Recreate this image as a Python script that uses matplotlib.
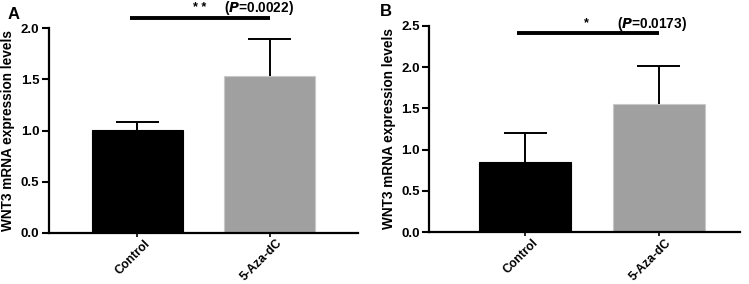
import matplotlib.pyplot as plt
import matplotlib.transforms as mtransforms
import numpy as np

plt.rcParams['font.family'] = ['Liberation Sans', 'DejaVu Sans']
plt.rcParams['font.weight'] = 'bold'
plt.rcParams['axes.labelweight'] = 'bold'

grupos = ['Control', '5-Aza-dC']
cores = ['#000000', '#a0a0a0']
bordas = ['#000000', '#c8c8c8']

# painel A
media_a = [1.01, 1.535]
erro_a = [0.07, 0.355]
# painel B
media_b = [0.855, 1.553]
erro_b = [0.345, 0.464]

paineis = [
    ('A', media_a, erro_a, 2.0, 2.095, '* *', '0.0022'),
    ('B', media_b, erro_b, 2.5, 2.41, '*', '0.0173'),
]
posicoes = [
    [0.0654, 0.1796, 0.4126, 0.7214],
    [0.5732, 0.182, 0.4148, 0.7275],
]
xlims = [(-0.67, 1.67), (-0.72, 1.61)]
pos_estrela = [0.47, 0.455]
pos_p = [0.92, 0.947]
off_texto = [0.10, 0.115]
pos_letra = [(0.010, 0.975), (0.507, 0.985)]

fig = plt.figure(figsize=(7.49, 2.84), dpi=100)
x = np.arange(len(grupos))
desloc = mtransforms.ScaledTranslation(0.11, -0.085, fig.dpi_scale_trans)

for i, (letra, medias, erros, ytop, ysig, estrelas, pval) in enumerate(paineis):
    ax = fig.add_axes(posicoes[i])
    medias = np.array(medias)
    erros = np.array(erros)
    ax.bar(x, medias, width=0.69, color=cores, edgecolor=bordas, linewidth=0.8, zorder=2)
    # barras de erro so para cima
    ax.vlines(x, medias, medias + erros, color='black', lw=1.4, zorder=3)
    ax.hlines(medias + erros, x - 0.163, x + 0.163, color='black', lw=1.4, zorder=3)
    ax.set_ylim(0, ytop)
    ax.set_xlim(*xlims[i])
    ticks = np.arange(0, ytop + 0.01, 0.5)
    ax.set_yticks(ticks)
    ax.set_yticklabels(['%.1f' % v for v in ticks], fontsize=9.5, fontweight='bold')
    ax.set_xticks(x)
    ax.set_xticklabels([])
    trans = mtransforms.blended_transform_factory(ax.transData, ax.transAxes) + desloc
    for xi, nome in zip(x, grupos):
        ax.text(xi, 0, nome, rotation=45, ha='right', va='center',
                rotation_mode='anchor', fontsize=8.8, fontweight='bold',
                transform=trans, clip_on=False)
    ax.tick_params(axis='y', direction='out', width=1.5, length=5, pad=2)
    ax.tick_params(axis='x', direction='out', width=1.2, length=3)
    for s in ['top', 'right']:
        ax.spines[s].set_visible(False)
    for s in ['left', 'bottom']:
        ax.spines[s].set_linewidth(1.6)
    ax.set_ylabel('WNT3 mRNA expression levels', fontsize=9.8, labelpad=4)

    # linha de significancia
    ax.plot([-0.06, 1.0], [ysig, ysig], color='black', lw=2.8, clip_on=False,
            solid_capstyle='butt')
    ax.text(pos_estrela[i], ysig + off_texto[i], estrelas,
            ha='center', va='center', fontsize=9)
    ax.text(pos_p[i], ysig + off_texto[i], r'($\bf\it{P}$=' + pval + ')',
            ha='center', va='center', fontsize=9.8)

    fig.text(pos_letra[i][0], pos_letra[i][1], letra, fontsize=12, fontweight='bold',
             ha='left', va='top')

fig.savefig('out.png', dpi=100)
